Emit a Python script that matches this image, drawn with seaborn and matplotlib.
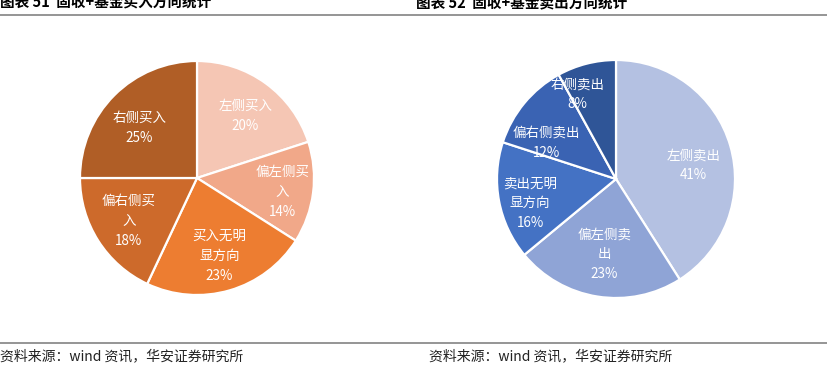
import numpy as np
import matplotlib
matplotlib.use('Agg')
import matplotlib.pyplot as plt
import seaborn as sns

# data
buy_labels = ['左侧买入', '偏左侧买\n入', '买入无明\n显方向', '偏右侧买\n入', '右侧买入']
buy_values = [20, 14, 23, 18, 25]
sell_labels = ['左侧卖出', '偏左侧卖\n出', '卖出无明\n显方向', '偏右侧卖出', '右侧卖出']
sell_values = [41, 23, 16, 12, 8]

buy_colors = ['#F5C6B4', '#F1A889', '#ED7D31', '#CD6A2B', '#B05E26']
sell_colors = ['#B4C1E2', '#8FA4D6', '#4472C4', '#3A63B3', '#2F5597']
# label placement: distance from centre (fraction of radius) and angle nudge (deg)
buy_label_r = [0.67, 0.74, 0.69, 0.69, 0.65]
buy_label_nudge = [-2, -2, 0, 0, 4]
sell_label_r = [0.66, 0.64, 0.75, 0.66, 0.78]
sell_label_nudge = [-6, 0, 5, 12, 10]

sns.set_theme(style='white')
plt.rcParams['font.family'] = ['Noto Sans CJK SC', 'DejaVu Sans']

W, H = 827, 382
fig = plt.figure(figsize=(W / 100, H / 100), dpi=100)


def px_axes(x0, y0, w, h):
    # pixel box (top-left origin) -> figure axes
    return fig.add_axes([x0 / W, 1 - (y0 + h) / H, w / W, h / H])


def draw_pie(ax, values, labels, colors, label_r, nudge):
    wedges, _ = ax.pie(values, colors=colors, startangle=90, counterclock=False,
                       wedgeprops=dict(edgecolor='white', linewidth=1.6))
    for w, lab, v, r, d in zip(wedges, labels, values, label_r, nudge):
        ang = np.deg2rad((w.theta1 + w.theta2) / 2 + d)
        ax.text(r * np.cos(ang), r * np.sin(ang), f'{lab}\n{v}%',
                ha='center', va='center', color='white', fontsize=9.7,
                linespacing=1.55)
    ax.set_xlim(-1, 1)
    ax.set_ylim(-1, 1)
    ax.set_aspect('equal')
    ax.axis('off')


ax1 = px_axes(80, 61, 234, 234)
draw_pie(ax1, buy_values, buy_labels, buy_colors, buy_label_r, buy_label_nudge)

ax2 = px_axes(497, 60, 238, 238)
draw_pie(ax2, sell_values, sell_labels, sell_colors, sell_label_r, sell_label_nudge)

# titles (top is clipped in the reference), rules and sources
fig.text(0 / W, 1 - 8 / H, '图表 51  固收+基金买入方向统计', fontsize=10.5,
         fontweight='bold', ha='left', va='baseline', color='black')
fig.text(416 / W, 1 - 8 / H, '图表 52  固收+基金卖出方向统计', fontsize=10.5,
         fontweight='bold', ha='left', va='baseline', color='black')

for y in (14.5, 342.5):
    fig.add_artist(plt.Line2D([0, 1], [1 - y / H, 1 - y / H], color='#8c8c8c',
                              linewidth=1.3, transform=fig.transFigure))

src = '资料来源：wind 资讯，华安证券研究所'
fig.text(0 / W, 1 - 356 / H, src, fontsize=10, ha='left', va='center', color='#222222')
fig.text(429 / W, 1 - 356 / H, src, fontsize=10, ha='left', va='center', color='#222222')

fig.savefig('out.png', dpi=100)
